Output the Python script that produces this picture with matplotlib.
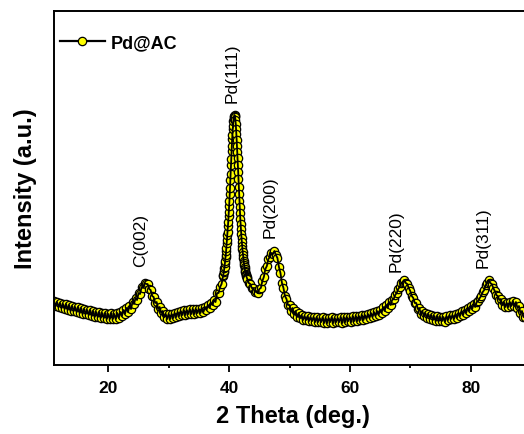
import numpy as np
import matplotlib
matplotlib.use("Agg")
import matplotlib.pyplot as plt
from matplotlib.lines import Line2D
from matplotlib.ticker import MultipleLocator, NullLocator

plt.rcParams['font.family'] = ['Liberation Sans', 'DejaVu Sans']

# XRD scan of Pd@AC (intensity in arbitrary units)
# 11.00 - 38.75 deg, 0.25 deg step
two_theta_a = np.linspace(11.0, 38.75, 112)
intensity_a = [
    64, 59, 63, 58, 62, 57, 61, 56, 61, 55, 60, 54, 59, 54, 58, 53,
    58, 52, 57, 51, 56, 51, 55, 50, 55, 49, 54, 48, 53, 48, 53, 47,
    52, 47, 52, 46, 51, 46, 52, 46, 51, 46, 52, 47, 53, 49, 55, 51,
    57, 53, 59, 56, 63, 61, 67, 65, 72, 71, 78, 77, 82, 81, 81, 76,
    75, 69, 68, 62, 63, 56, 58, 52, 54, 48, 51, 46, 51, 46, 51, 47,
    52, 48, 53, 49, 54, 50, 55, 50, 55, 51, 56, 51, 56, 51, 56, 52,
    56, 52, 57, 53, 58, 55, 60, 57, 62, 60, 65, 63, 72, 72, 78, 81,
]
# 39.00 - 42.95 deg, 0.05 deg step (Pd(111) region)
two_theta_b = np.linspace(39.0, 42.95, 80)
intensity_b = [
    89, 90, 93, 94, 97, 98, 102, 104, 108, 110,
    114, 117, 122, 125, 130, 133, 139, 143, 149, 153,
    159, 164, 171, 177, 185, 191, 200, 206, 214, 219,
    226, 230, 236, 239, 244, 246, 248, 249, 250, 249,
    248, 245, 241, 236, 231, 225, 219, 213, 207, 200,
    193, 186, 178, 171, 164, 158, 152, 146, 141, 136,
    131, 127, 123, 119, 116, 113, 110, 107, 104, 102,
    100, 98, 96, 94, 93, 91, 90, 89, 88, 87,
]
# 43.00 - 89.00 deg, 0.25 deg step
two_theta_c = np.linspace(43.0, 89.0, 185)
intensity_c = [
    86, 82, 81, 77, 77, 73, 74, 72, 76, 77, 84, 88, 96, 99, 106, 108,
    112, 111, 114, 110, 107, 98, 92, 82, 77, 69, 66, 60, 60, 54, 57, 51,
    54, 48, 52, 47, 50, 45, 49, 45, 49, 44, 48, 44, 48, 43, 48, 43,
    47, 43, 48, 42, 47, 42, 47, 43, 48, 42, 47, 43, 47, 43, 48, 42,
    48, 43, 48, 44, 48, 43, 49, 44, 49, 44, 49, 45, 50, 45, 50, 46,
    51, 47, 52, 48, 53, 49, 54, 50, 55, 52, 58, 54, 60, 57, 63, 60,
    65, 66, 70, 72, 76, 78, 82, 83, 85, 82, 81, 77, 74, 69, 67, 62,
    62, 56, 57, 51, 54, 49, 52, 47, 51, 46, 50, 45, 49, 44, 49, 44,
    48, 44, 48, 43, 49, 45, 50, 46, 50, 46, 51, 47, 52, 49, 54, 50,
    55, 52, 57, 54, 59, 56, 61, 58, 63, 64, 67, 69, 73, 75, 80, 82,
    85, 82, 81, 77, 74, 70, 69, 65, 66, 60, 63, 58, 62, 58, 63, 59,
    64, 59, 63, 57, 59, 52, 54, 48, 48,
]

two_theta = np.concatenate([two_theta_a, two_theta_b, two_theta_c])
intensity = np.concatenate([intensity_a, intensity_b, intensity_c])

peak_names = ["C(002)", "Pd(111)", "Pd(200)", "Pd(220)", "Pd(311)"]
peak_pos = [25.4, 40.5, 46.8, 67.6, 82.0]
peak_text_y = [99, 263, 128, 94, 98]

fig = plt.figure(figsize=(5.24, 4.35), dpi=100)
ax = fig.add_axes([0.1031, 0.1586, 0.9103, 0.8138])

# symbols first, connecting line on top (as the dense scan looks)
ax.plot(two_theta, intensity, 'o', markersize=6.0, markerfacecolor='#ffff00',
        markeredgecolor='black', markeredgewidth=0.9, zorder=2)
ax.plot(two_theta, intensity, '-', color='black', linewidth=1.3, zorder=3)

for name, xp, yp in zip(peak_names, peak_pos, peak_text_y):
    ax.text(xp, yp, name, rotation=90, ha='center', va='bottom', fontsize=12.5)

ax.set_xlim(11, 90)
ax.set_ylim(0, 354)
ax.xaxis.set_major_locator(MultipleLocator(20))
ax.xaxis.set_minor_locator(MultipleLocator(10))
ax.yaxis.set_major_locator(NullLocator())
ax.tick_params(axis='x', which='major', direction='out', length=5, width=1.3,
               labelsize=12.5, pad=6)
ax.tick_params(axis='x', which='minor', direction='out', length=2.5, width=1.3)
for lab in ax.get_xticklabels():
    lab.set_fontweight('bold')
for sp in ax.spines.values():
    sp.set_linewidth(1.4)
ax.spines['right'].set_visible(False)

ax.set_xlabel("2 Theta (deg.)", fontsize=17, fontweight='bold', labelpad=6)
ax.set_ylabel("Intensity (a.u.)", fontsize=17, fontweight='bold')
ax.yaxis.set_label_coords(-0.035, 0.5)

handle = Line2D([], [], color='black', linewidth=1.6, marker='o', markersize=6.0,
                markerfacecolor='#ffff00', markeredgecolor='black',
                markeredgewidth=0.9)
ax.legend([handle], ['Pd@AC'], loc='center left', bbox_to_anchor=(0.012, 0.91),
          frameon=False, borderpad=0, borderaxespad=0, handlelength=2.5,
          handletextpad=0.3, prop={'size': 13, 'weight': 'bold'})

fig.savefig("out.png", dpi=100)
